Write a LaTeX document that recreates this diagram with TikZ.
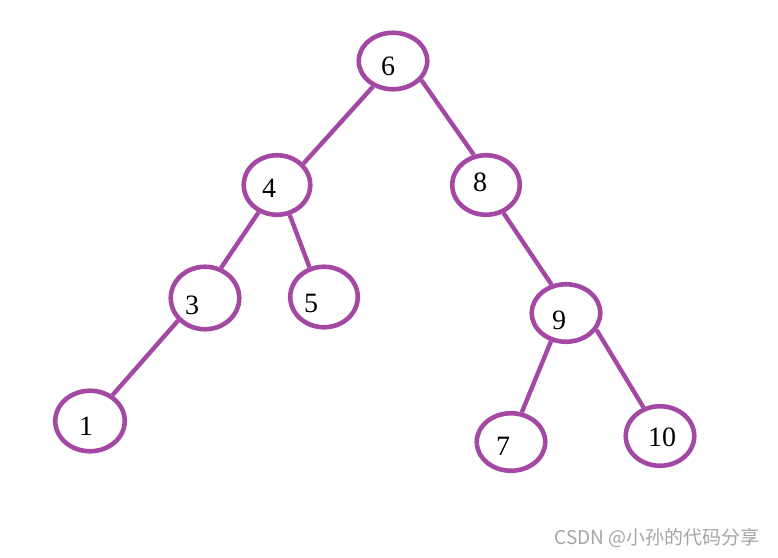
\documentclass[tikz,border=0pt]{standalone}
\usepackage{fontspec}
\setmainfont{Liberation Serif}
\newfontfamily\cjk{Noto Sans CJK SC}
\usetikzlibrary{shapes.geometric}
\definecolor{paintpurple}{RGB}{163,73,164}
\definecolor{wmgray}{RGB}{165,165,165}
\begin{document}
\begin{tikzpicture}[x=1pt,y=-1pt,
  treenode/.style={ellipse,draw=paintpurple,line width=4.6pt,inner sep=0pt},
  numtext/.style={inner sep=0pt,font=\fontsize{28}{28}\selectfont},
  edge/.style={draw=paintpurple,line width=4.4pt}]
\useasboundingbox (0,0) rectangle (778,557);
% ellipses
\node[treenode,minimum width=68.5pt,minimum height=56.5pt] (n6) at (393,61) {};
\node[treenode,minimum width=66.5pt,minimum height=59.5pt] (n4) at (277,185) {};
\node[treenode,minimum width=67.5pt,minimum height=59.5pt] (n8) at (486,185) {};
\node[treenode,minimum width=68.5pt,minimum height=62.5pt] (n3) at (205,298) {};
\node[treenode,minimum width=67.5pt,minimum height=60.5pt] (n5) at (324,297) {};
\node[treenode,minimum width=68.5pt,minimum height=57.5pt] (n9) at (566,313) {};
\node[treenode,minimum width=69.5pt,minimum height=60.5pt] (n1) at (90,421) {};
\node[treenode,minimum width=68.5pt,minimum height=57.5pt] (n7) at (511,442) {};
\node[treenode,minimum width=68.5pt,minimum height=59.5pt] (n10) at (660,436) {};
% labels
\node[numtext] (t6) at (388,66) {6};
\node[numtext] (t4) at (269,188) {4};
\node[numtext] (t8) at (480,182) {8};
\node[numtext] (t3) at (192,305) {3};
\node[numtext] (t5) at (311,303) {5};
\node[numtext] (t9) at (559,320) {9};
\node[numtext] (t1) at (86,426) {1};
\node[numtext] (t7) at (503,446) {7};
\node[numtext] (t10) at (662,437) {10};
% edges
\draw[edge] (n6.232) -- (n4.39);
\draw[edge] (n6.326) -- (n8.112);
\draw[edge] (n4.236) -- (n3.62);
\draw[edge] (n4.293) -- (n5.116);
\draw[edge] (n3.220) -- (n1.49);
\draw[edge] (n8.302) -- (n9.117);
\draw[edge] (n9.242) -- (n7.70);
\draw[edge] (n9.331) -- (n10.120);
% watermark
\node[inner sep=0pt,text=wmgray,font=\cjk\fontsize{19}{19}\selectfont] (wm) at (657,538) {CSDN @小孙的代码分享};
\end{tikzpicture}
\end{document}
